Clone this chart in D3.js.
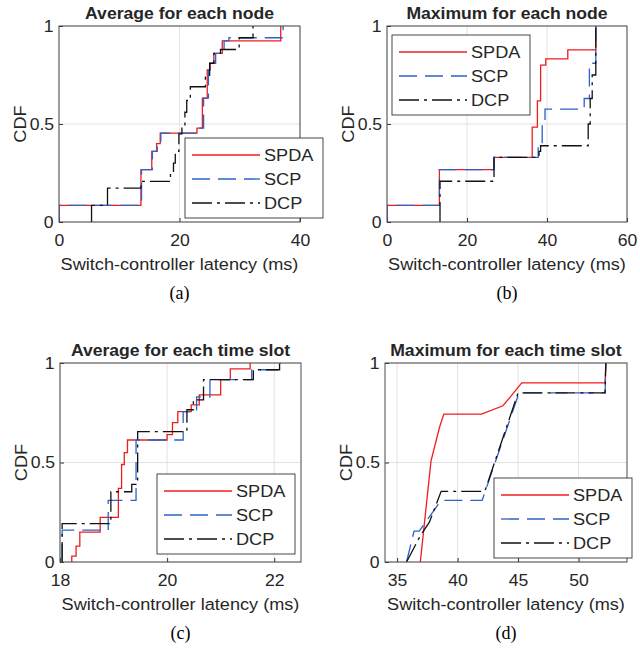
<!DOCTYPE html>
<html>
<head>
<meta charset="utf-8">
<script src="https://cdn.jsdelivr.net/npm/d3@7"></script>
<style>
  body { margin: 0; background: #fff; }
  text { font-family: "Liberation Sans", Arial, Helvetica, sans-serif; fill: #262626; }
  .st { transform-box: fill-box; transform-origin: center; transform: scaleX(1.1); }
  .stl { transform-box: fill-box; transform-origin: left center; transform: scaleX(1.1); }
  .serif { font-family: "Liberation Serif", "Times New Roman", serif; fill: #000; }
</style>
</head>
<body>
<svg id="fig" width="640" height="650"></svg>
<script>
const seriesNames = ["SPDA", "SCP", "DCP"];
const yTickValues = [0, 0.5, 1];

// (a) average latency per node, CDF step points
const aSpdaX = [0, 0, 13.6, 15.4, 16.2, 16.8, 22.9, 23.8, 24.6, 25.1, 25.7, 27.1, 36.8];
const aSpdaY = [0, 0.085, 0.267, 0.36, 0.40, 0.453, 0.479, 0.632, 0.776, 0.81, 0.86, 0.924, 1];
const aScpX = [0, 0, 13.7, 15.5, 16.3, 16.9, 23.1, 24.0, 24.8, 25.3, 26.0, 27.4, 28.2, 37.2];
const aScpY = [0, 0.085, 0.267, 0.36, 0.40, 0.453, 0.479, 0.632, 0.776, 0.81, 0.86, 0.924, 0.94, 1];
const aDcpX = [5.4, 5.4, 8.05, 13.6, 18.5, 19.0, 19.3, 19.9, 20.4, 20.9, 21.2, 21.8, 24.3, 25.0, 25.7, 26.8, 29.9, 32.2];
const aDcpY = [0, 0.085, 0.173, 0.207, 0.25, 0.30, 0.36, 0.45, 0.49, 0.56, 0.62, 0.69, 0.74, 0.81, 0.86, 0.88, 0.94, 1];

// (b) maximum latency per node
const bSpdaX = [0, 0, 13.1, 26.75, 36.3, 37.6, 38.4, 39.7, 45.2, 52.2];
const bSpdaY = [0, 0.085, 0.267, 0.33, 0.484, 0.618, 0.80, 0.832, 0.878, 1];
const bScpX = [0, 0, 13.1, 26.75, 37.8, 38.8, 39.5, 49.3, 50.6, 52.2];
const bScpY = [0, 0.085, 0.267, 0.33, 0.40, 0.513, 0.576, 0.63, 0.81, 1];
const bDcpX = [13.25, 13.25, 26.75, 38.0, 38.4, 50.3, 50.8, 51.3, 52.2];
const bDcpY = [0, 0.208, 0.33, 0.36, 0.389, 0.50, 0.63, 0.75, 1];

// (c) average latency per time slot
const cSpdaX = [18.22, 18.22, 18.3, 18.37, 18.75, 19.09, 19.15, 19.2, 19.26, 20.0, 20.1, 20.2, 20.45, 20.6, 21.0, 21.18, 21.55];
const cSpdaY = [0, 0.03, 0.08, 0.15, 0.224, 0.37, 0.49, 0.55, 0.613, 0.64, 0.70, 0.756, 0.79, 0.84, 0.916, 0.97, 1];
const cScpX = [18.04, 18.04, 18.9, 19.42, 20.3, 20.55, 20.8, 21.58, 22.11];
const cScpY = [0, 0.16, 0.31, 0.613, 0.756, 0.83, 0.916, 0.966, 1];
const cDcpX = [18.04, 18.04, 18.95, 19.34, 19.45, 20.37, 20.49, 20.68, 21.61, 22.1];
const cDcpY = [0, 0.193, 0.353, 0.39, 0.655, 0.765, 0.815, 0.916, 0.966, 1];

// (d) maximum latency per time slot
const dSpdaX = [36.92, 37.8, 38.5, 38.86, 41.97, 43.75, 45.3, 52.19, 52.25];
const dSpdaY = [0, 0.507, 0.676, 0.743, 0.743, 0.785, 0.9, 0.9, 1];
const dScpX = [35.78, 36.4, 36.83, 38.64, 42.03, 45.08, 52.19, 52.25];
const dScpY = [0, 0.155, 0.155, 0.31, 0.31, 0.85, 0.85, 1];
const dDcpX = [35.78, 36.9, 37.67, 38.64, 42.25, 45.0, 52.19, 52.25];
const dDcpY = [0, 0.13, 0.2, 0.355, 0.355, 0.85, 0.85, 1];

const styles = {
  SPDA: { color: "#f01c1c", dash: null },
  SCP:  { color: "#2d62c6", dash: "18,8" },
  DCP:  { color: "#111111", dash: "20,5,3,5" }
};

const panels = [
  { title: "Average for each node", tag: "(a)", left: 59, top: 26, width: 241, height: 196,
    xDomain: [0, 40], xTicks: [0, 20, 40], curve: d3.curveStepAfter, legend: [185, 138],
    data: [[aSpdaX, aSpdaY], [aScpX, aScpY], [aDcpX, aDcpY]] },
  { title: "Maximum for each node", tag: "(b)", left: 387, top: 26, width: 240, height: 196,
    xDomain: [0, 60], xTicks: [0, 20, 40, 60], curve: d3.curveStepAfter, legend: [392, 35],
    data: [[bSpdaX, bSpdaY], [bScpX, bScpY], [bDcpX, bDcpY]] },
  { title: "Average for each time slot", tag: "(c)", left: 60, top: 363, width: 241, height: 199,
    xDomain: [18, 22.5], xTicks: [18, 20, 22], curve: d3.curveStepAfter, legend: [157, 474],
    data: [[cSpdaX, cSpdaY], [cScpX, cScpY], [cDcpX, cDcpY]] },
  { title: "Maximum for each time slot", tag: "(d)", left: 385, top: 363, width: 242, height: 199,
    xDomain: [34, 54], xTicks: [35, 40, 45, 50], curve: d3.curveLinear, legend: [494, 478],
    data: [[dSpdaX, dSpdaY], [dScpX, dScpY], [dDcpX, dDcpY]] }
];

const svg = d3.select("#fig");

panels.forEach((p, i) => drawPanel(p, i));

function drawPanel(p, i) {
  const g = svg.append("g").attr("transform", `translate(${p.left},${p.top})`);
  const x = d3.scaleLinear().domain(p.xDomain).range([0, p.width]);
  const y = d3.scaleLinear().domain([0, 1]).range([p.height, 0]);

  // grid
  g.append("g").selectAll("line").data(p.xTicks).join("line")
    .attr("x1", d => x(d)).attr("x2", d => x(d))
    .attr("y1", 0).attr("y2", p.height)
    .attr("stroke", "#e2e2e2");
  g.append("g").selectAll("line").data(yTickValues).join("line")
    .attr("x1", 0).attr("x2", p.width)
    .attr("y1", d => y(d)).attr("y2", d => y(d))
    .attr("stroke", "#e2e2e2");

  // axes, ticks pointing inwards like matlab
  const xAxis = g.append("g").attr("transform", `translate(0,${p.height})`)
    .call(d3.axisBottom(x).tickValues(p.xTicks).tickFormat(d3.format("~g")).tickSize(-4).tickPadding(13));
  const yAxis = g.append("g")
    .call(d3.axisLeft(y).tickValues(yTickValues).tickFormat(d3.format("~g")).tickSize(-4).tickPadding(6));
  [xAxis, yAxis].forEach(a => {
    a.select(".domain").remove();
    a.selectAll(".tick line").attr("stroke", "#333");
    a.selectAll("text").attr("font-size", 16).attr("fill", "#262626")
      .attr("font-family", "Liberation Sans, Arial, sans-serif").classed("st", true);
  });

  // clip + curves
  const clipId = "clip" + i;
  g.append("clipPath").attr("id", clipId).append("rect")
    .attr("width", p.width).attr("height", p.height);

  const line = d3.line().x(d => x(d[0])).y(d => y(d[1])).curve(p.curve);
  p.data.forEach((s, k) => {
    const st = styles[seriesNames[k]];
    g.append("path")
      .datum(d3.zip(s[0], s[1]))
      .attr("clip-path", `url(#${clipId})`)
      .attr("fill", "none")
      .attr("stroke", st.color)
      .attr("stroke-width", 1.3)
      .attr("stroke-dasharray", st.dash)
      .attr("d", line);
  });

  // box
  g.append("rect").attr("width", p.width).attr("height", p.height)
    .attr("fill", "none").attr("stroke", "#4a4a4a").attr("stroke-width", 1);

  // title
  g.append("text").attr("class", "st")
    .attr("x", p.width / 2).attr("y", -7.5)
    .attr("text-anchor", "middle").attr("font-size", 16).attr("font-weight", "bold")
    .attr("fill", "#1a1a1a")
    .text(p.title);

  // x label
  g.append("text").attr("class", "st")
    .attr("x", p.width / 2).attr("y", p.height + 48)
    .attr("text-anchor", "middle").attr("font-size", 16.5)
    .text("Switch-controller latency (ms)");

  // y label
  g.append("g").attr("transform", `translate(-33,${p.height / 2}) rotate(-90)`)
    .append("text").attr("class", "st")
    .attr("text-anchor", "middle").attr("font-size", 16.5)
    .text("CDF");

  // sub figure tag
  g.append("text").attr("class", "serif")
    .attr("x", p.width / 2).attr("y", p.height + 77)
    .attr("text-anchor", "middle").attr("font-size", 18)
    .text(p.tag);

  // legend
  const lg = svg.append("g").attr("transform", `translate(${p.legend[0]},${p.legend[1]})`);
  lg.append("rect").attr("width", 138).attr("height", 80)
    .attr("fill", "#fff").attr("stroke", "#333").attr("stroke-width", 0.9);
  seriesNames.forEach((name, k) => {
    const st = styles[name];
    const ly = 17 + k * 24;
    lg.append("line")
      .attr("x1", 7).attr("x2", 75).attr("y1", ly).attr("y2", ly)
      .attr("stroke", st.color).attr("stroke-width", 1.3)
      .attr("stroke-dasharray", st.dash);
    lg.append("text").attr("class", "stl")
      .attr("x", 79).attr("y", ly + 6)
      .attr("font-size", 16.5)
      .text(name);
  });
}
</script>
</body>
</html>
